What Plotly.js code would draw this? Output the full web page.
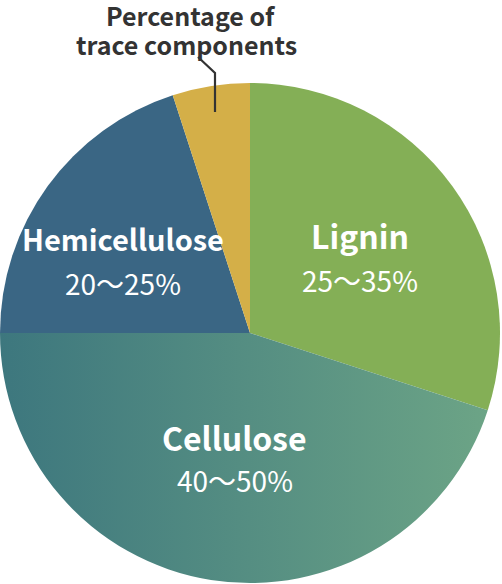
<!DOCTYPE html>
<html>
<head>
<meta charset="utf-8">
<script src="https://cdn.plot.ly/plotly-3.0.1.min.js"></script>
<style>
  html, body { margin: 0; padding: 0; background: #fff; }
  #pie { width: 502px; height: 584px; }
</style>
</head>
<body>
<div id="pie"></div>
<script>
// slices, clockwise from 12 o'clock
let components = ['Lignin', 'Cellulose', 'Hemicellulose', 'Percentage of<br>trace components'];
let shares = [30, 45, 20, 5];
let ranges = ['25～35%', '40～50%', '20～25%', ''];
let sliceColors = ['#84AF56', '#56907F', '#3A6684', '#D4AF48'];

let font = '"Noto Sans CJK JP", "Noto Sans", sans-serif';

let trace = {
  type: 'pie',
  labels: components,
  values: shares,
  sort: false,
  direction: 'clockwise',
  rotation: 0,
  textinfo: 'none',
  hoverinfo: 'label+value',
  marker: {
    colors: sliceColors,
    line: { width: 0 }
  },
  domain: { x: [0, 1], y: [0, 1] },
  showlegend: false
};

// label spots (paper coords, plot area = the pie's box)
let namePos = [
  { x: 0.72, y: 0.696 },
  { x: 0.469, y: 0.292 },
  { x: 0.245, y: 0.69 }
];
let nameSize = [32, 32, 29];
let rangePos = [
  { x: 0.72, y: 0.606 },
  { x: 0.47, y: 0.207 },
  { x: 0.245, y: 0.6 }
];

function note(x, y, text, size, color) {
  return {
    x: x, y: y, xref: 'paper', yref: 'paper',
    xanchor: 'center', yanchor: 'middle',
    text: text, showarrow: false,
    font: { family: font, size: size, color: color }
  };
}

let annotations = [];
namePos.forEach(function (p, i) {
  annotations.push(note(p.x, p.y, '<b>' + components[i] + '</b>', nameSize[i], '#ffffff'));
  annotations.push(note(rangePos[i].x, rangePos[i].y, ranges[i], 28, '#ffffff'));
});
let traceLines = components[3].split('<br>');
annotations.push(note(0.382, 1.136, '<b>' + traceLines[0] + '</b>', 25, '#333333'));
annotations.push(note(0.372, 1.079, '<b>' + traceLines[1] + '</b>', 25, '#333333'));

let layout = {
  width: 502,
  height: 584,
  margin: { l: 0, r: 2, t: 83, b: 1 },
  paper_bgcolor: '#ffffff',
  annotations: annotations,
  shapes: [{
    type: 'path',
    xref: 'paper', yref: 'paper',
    path: 'M 0.396,1.052 L 0.43,1.02 L 0.43,0.942',
    line: { color: '#333333', width: 2.2 }
  }]
};

Plotly.newPlot('pie', [trace], layout, { displayModeBar: false, staticPlot: true }).then(function (gd) {
  // horizontal gradient on the cellulose slice
  let svg = gd.querySelector('.main-svg');
  let ns = 'http://www.w3.org/2000/svg';
  let defs = svg.querySelector('defs') || svg.insertBefore(document.createElementNS(ns, 'defs'), svg.firstChild);
  let grad = document.createElementNS(ns, 'linearGradient');
  grad.setAttribute('id', 'celluloseGrad');
  grad.setAttribute('x1', '0'); grad.setAttribute('x2', '1');
  grad.setAttribute('y1', '0'); grad.setAttribute('y2', '0');
  [['0', '#3D777E'], ['1', '#6CA486']].forEach(function (s) {
    let stop = document.createElementNS(ns, 'stop');
    stop.setAttribute('offset', s[0]);
    stop.setAttribute('stop-color', s[1]);
    grad.appendChild(stop);
  });
  defs.appendChild(grad);
  let slices = gd.querySelectorAll('.slice path.surface');
  if (slices[1]) slices[1].style.fill = 'url(#celluloseGrad)';
});
</script>
</body>
</html>
